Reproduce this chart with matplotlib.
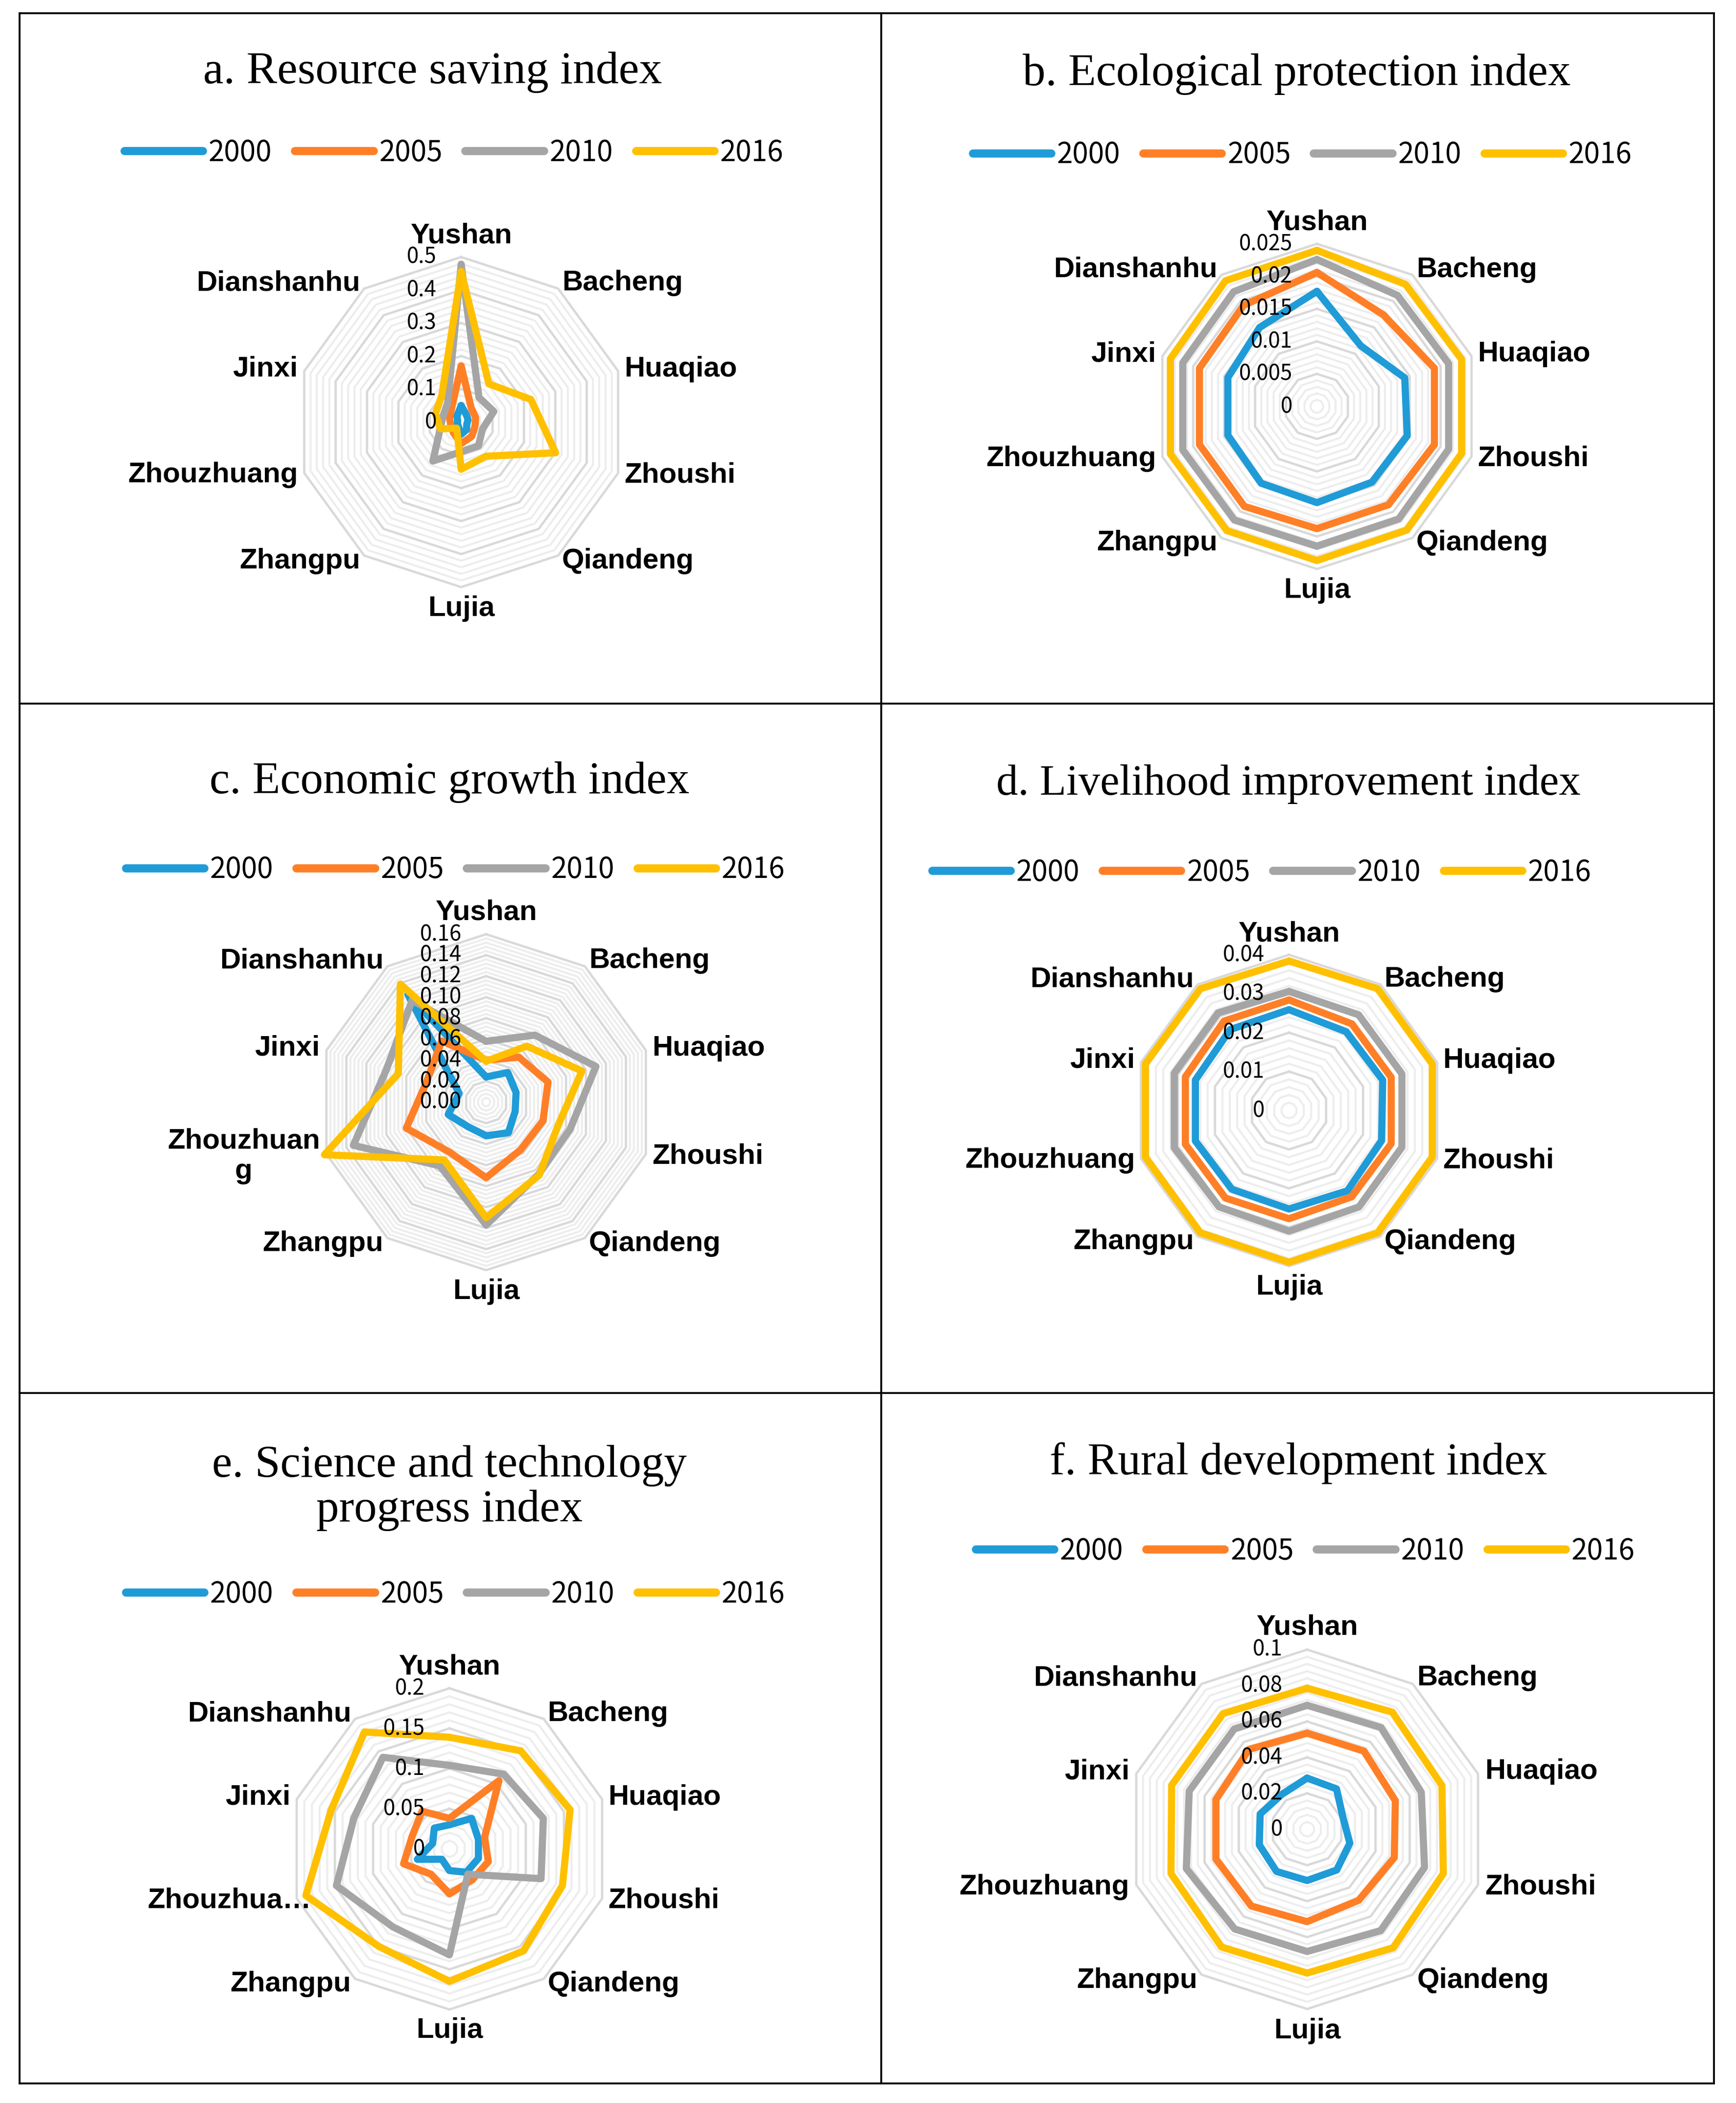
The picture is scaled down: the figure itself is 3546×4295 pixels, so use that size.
import numpy as np
import matplotlib
matplotlib.use('Agg')
import matplotlib.pyplot as plt
from matplotlib.lines import Line2D
from matplotlib.transforms import ScaledTranslation
from matplotlib.font_manager import FontProperties

W, H = 3546, 4295
DPI = 300

towns = ['Yushan', 'Bacheng', 'Huaqiao', 'Zhoushi', 'Qiandeng',
         'Lujia', 'Zhangpu', 'Zhouzhuang', 'Jinxi', 'Dianshanhu']
towns_c = towns[:7] + ['Zhouzhuan\ng'] + towns[8:]
towns_e = towns[:7] + ['Zhouzhua\u2026'] + towns[8:]
years = ['2000', '2005', '2010', '2016']
colors = ['#1F9BD7', '#FF7F27', '#A5A5A5', '#FFC000']

# a. Resource saving index
res_2000 = [0.050, 0.027, 0.022, 0.018, 0.028, 0.037, 0.015, 0.012, 0.011, 0.022]
res_2005 = [0.170, 0.052, 0.046, 0.044, 0.054, 0.065, 0.040, 0.033, 0.037, 0.050]
res_2010 = [0.478, 0.092, 0.104, 0.068, 0.089, 0.090, 0.146, 0.067, 0.058, 0.070]
res_2016 = [0.456, 0.143, 0.222, 0.301, 0.128, 0.143, 0.023, 0.066, 0.082, 0.100]
res_ticks = ['0', '0.1', '0.2', '0.3', '0.4', '0.5']

# b. Ecological protection index
eco_2000 = [0.0177, 0.0115, 0.0142, 0.0146, 0.0144, 0.0148, 0.0146, 0.0144, 0.0144, 0.0150]
eco_2005 = [0.0206, 0.0174, 0.0190, 0.0190, 0.0187, 0.0188, 0.0190, 0.0190, 0.0190, 0.0192]
eco_2010 = [0.0226, 0.0211, 0.0213, 0.0213, 0.0214, 0.0215, 0.0216, 0.0217, 0.0217, 0.0218]
eco_2016 = [0.0240, 0.0232, 0.0234, 0.0234, 0.0235, 0.0237, 0.0236, 0.0237, 0.0237, 0.0239]
eco_ticks = ['0', '0.005', '0.01', '0.015', '0.02', '0.025']

# c. Economic growth index
ecn_2000 = [0.024, 0.035, 0.030, 0.029, 0.036, 0.032, 0.029, 0.038, 0.027, 0.127]
ecn_2005 = [0.040, 0.053, 0.062, 0.057, 0.056, 0.072, 0.059, 0.080, 0.060, 0.072]
ecn_2010 = [0.058, 0.079, 0.110, 0.084, 0.085, 0.117, 0.075, 0.133, 0.100, 0.120]
ecn_2016 = [0.039, 0.066, 0.096, 0.072, 0.086, 0.110, 0.068, 0.162, 0.088, 0.139]
ecn_ticks = ['0.00', '0.02', '0.04', '0.06', '0.08', '0.10', '0.12', '0.14', '0.16']

# d. Livelihood improvement index
liv_2000 = [0.0259, 0.0250, 0.0253, 0.0250, 0.0255, 0.0253, 0.0250, 0.0253, 0.0253, 0.0257]
liv_2005 = [0.0284, 0.0275, 0.0276, 0.0276, 0.0274, 0.0278, 0.0278, 0.0280, 0.0280, 0.0284]
liv_2010 = [0.0306, 0.0304, 0.0305, 0.0305, 0.0306, 0.0310, 0.0306, 0.0310, 0.0310, 0.0310]
liv_2016 = [0.0384, 0.0387, 0.0387, 0.0387, 0.0388, 0.0390, 0.0388, 0.0388, 0.0388, 0.0387]
liv_ticks = ['0', '0.01', '0.02', '0.03', '0.04']

# e. Science and technology progress index
sci_2000 = [0.030, 0.047, 0.038, 0.038, 0.036, 0.027, 0.016, 0.042, 0.022, 0.032]
sci_2005 = [0.038, 0.105, 0.046, 0.051, 0.048, 0.056, 0.039, 0.060, 0.049, 0.058]
sci_2010 = [0.104, 0.115, 0.123, 0.120, 0.039, 0.132, 0.120, 0.148, 0.125, 0.141]
sci_2016 = [0.139, 0.151, 0.158, 0.148, 0.157, 0.165, 0.150, 0.188, 0.155, 0.180]
sci_ticks = ['0', '0.05', '0.1', '0.15', '0.2']

# f. Rural development index
rur_2000 = [0.0285, 0.0278, 0.0210, 0.0250, 0.0280, 0.0285, 0.0290, 0.0280, 0.0275, 0.0240]
rur_2005 = [0.0535, 0.0538, 0.0516, 0.0510, 0.0488, 0.0514, 0.0528, 0.0534, 0.0534, 0.0550]
rur_2010 = [0.0690, 0.0700, 0.0668, 0.0687, 0.0697, 0.0680, 0.0686, 0.0707, 0.0690, 0.0690]
rur_2016 = [0.0785, 0.0806, 0.0789, 0.0797, 0.0815, 0.0800, 0.0810, 0.0797, 0.0793, 0.0796]
rur_ticks = ['0', '0.02', '0.04', '0.06', '0.08', '0.1']

light = ['Noto Sans CJK SC', 'DejaVu Sans']
fp_tick = FontProperties(family=light, weight='light', size=10.5)
fp_leg = FontProperties(family=light, weight='light', size=14)
fp_cat = FontProperties(family=['Liberation Sans', 'DejaVu Sans'], weight='bold', size=14)
serif = ['Liberation Serif', 'DejaVu Serif']

fig = plt.figure(figsize=(W / DPI, H / DPI), dpi=DPI)
fig.patch.set_facecolor('white')


def radar(cx, cy, R, title, tsize, tx, ty, lx, ly, series, ticks, labels, shift=None):
    ax = fig.add_axes([(cx - R) / W, 1 - (cy + R) / H, 2 * R / W, 2 * R / H],
                      projection='polar')
    ax.set_theta_zero_location('N')
    ax.set_theta_direction(-1)
    tick_vals = [float(t) for t in ticks]
    rmax = tick_vals[-1]
    ax.set_ylim(0, rmax)
    ax.grid(False)
    ax.set_xticks([])
    ax.set_yticks([])
    ax.spines['polar'].set_visible(False)
    ax.patch.set_alpha(0)

    theta = np.linspace(0, 2 * np.pi, len(towns), endpoint=False)
    tc = np.append(theta, theta[0])

    # minor and major polygon rings
    step = tick_vals[1] - tick_vals[0]
    nminor = 5 * (len(tick_vals) - 1)
    for k in range(1, nminor):
        if k % 5:
            ax.plot(tc, [k * step / 5] * len(tc), color='#EDEDED', lw=1.0,
                    zorder=1, clip_on=False)
    for v in tick_vals[1:]:
        ax.plot(tc, [v] * len(tc), color='#D9D9D9', lw=1.15, zorder=2,
                clip_on=False)

    for vals, col in zip(series, colors):
        vc = np.append(vals, vals[0])
        ax.plot(tc, vc, color=col, lw=3.5, solid_joinstyle='round',
                solid_capstyle='round', zorder=3, clip_on=False)

    off = ScaledTranslation(-50 / DPI, 0, fig.dpi_scale_trans)
    for v, lab in zip(tick_vals, ticks):
        ax.text(0, v, lab, ha='right', va='center', fontproperties=fp_tick,
                transform=ax.transData + off, zorder=5)

    for i, (th, lab) in enumerate(zip(theta, labels)):
        s = np.sin(th)
        c = np.cos(th)
        if abs(s) < 0.01:
            ha = 'center'
            va = 'bottom' if c > 0 else 'top'
            r = rmax * 1.05
        else:
            ha = 'left' if s > 0 else 'right'
            va = 'center'
            r = rmax * 1.04
        tr = ax.transData
        if shift and i in shift:
            tr = tr + ScaledTranslation(shift[i] / DPI, 0, fig.dpi_scale_trans)
        ax.text(th, r, lab, ha=ha, va=va, fontproperties=fp_cat,
                multialignment='center', zorder=5, transform=tr)

    fig.text(tx / W, 1 - ty / H, title, ha='center', va='center',
             family=serif, fontsize=tsize, linespacing=1.1)

    handles = [Line2D([], [], color=col, lw=4.0, solid_capstyle='round')
               for col in colors]
    fig.legend(handles, years, loc='center', bbox_to_anchor=(lx / W, 1 - ly / H),
               ncol=4, frameon=False, prop=fp_leg, handlelength=2.75,
               handletextpad=0.2, columnspacing=0.8)


radar(942, 862, 337, 'a. Resource saving index', 22.5, 884, 147, 927, 312,
      [res_2000, res_2005, res_2010, res_2016], res_ticks, towns)
radar(2690, 830, 332, 'b. Ecological protection index', 22.3, 2649, 152, 2660, 317,
      [eco_2000, eco_2005, eco_2010, eco_2016], eco_ticks, towns)
radar(993, 2251, 343, 'c. Economic growth index', 22.3, 918, 1597, 930, 1777,
      [ecn_2000, ecn_2005, ecn_2010, ecn_2016], ecn_ticks, towns_c)
radar(2633, 2268, 318, 'd. Livelihood improvement index', 21.3, 2632, 1602, 2577, 1782,
      [liv_2000, liv_2005, liv_2010, liv_2016], liv_ticks, towns)
radar(918, 3776, 328, 'e. Science and technology\nprogress index', 22.3, 918, 3039, 930, 3256,
      [sci_2000, sci_2005, sci_2010, sci_2016], sci_ticks, towns_e, shift={7: 42})
radar(2670, 3736, 367, 'f. Rural development index', 22.3, 2652, 2988, 2666, 3168,
      [rur_2000, rur_2005, rur_2010, rur_2016], rur_ticks, towns)

# panel frame lines
xs = [40, 1800, 3501]
ys = [27, 1437, 2845, 4255]
for x in xs:
    fig.add_artist(Line2D([x / W, x / W], [1 - ys[0] / H, 1 - ys[-1] / H],
                          transform=fig.transFigure, color='black', lw=0.9))
for y in ys:
    fig.add_artist(Line2D([xs[0] / W, xs[-1] / W], [1 - y / H, 1 - y / H],
                          transform=fig.transFigure, color='black', lw=0.9))

fig.savefig('out.png', dpi=DPI, facecolor='white')
